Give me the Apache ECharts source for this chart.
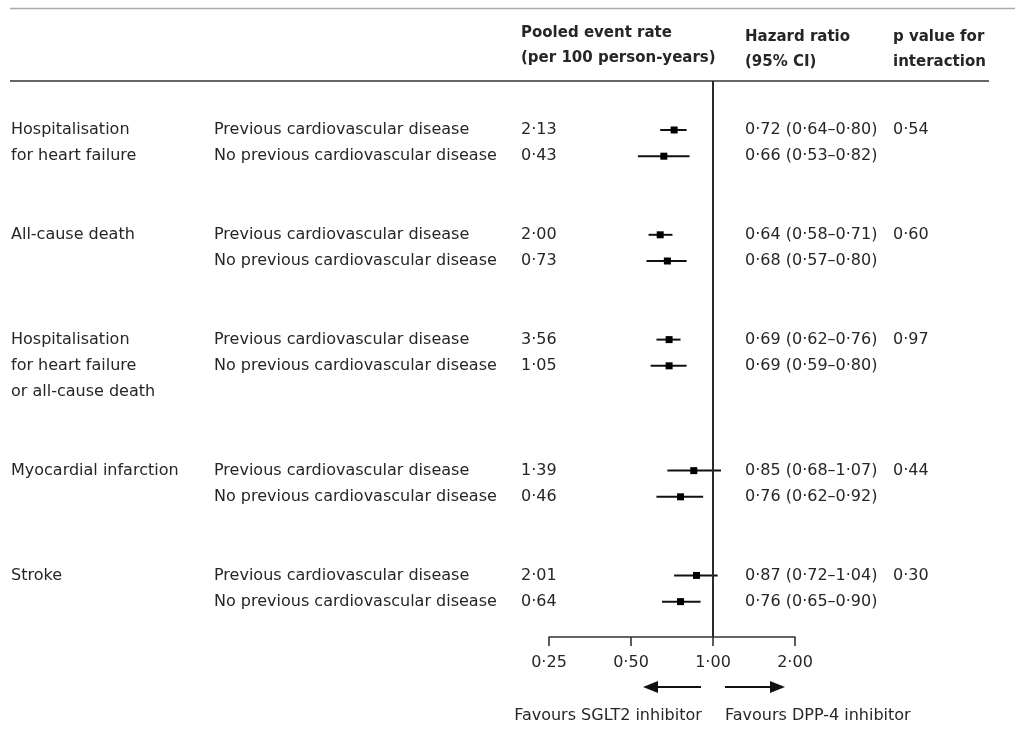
<!DOCTYPE html>
<html>
<head>
<meta charset="utf-8">
<script src="https://cdn.jsdelivr.net/npm/echarts@6/dist/echarts.min.js"></script>
<style>html,body{margin:0;padding:0;background:#fff}#c{width:1024px;height:735px}</style>
</head>
<body>
<div id="c"></div>
<script>
// ---- data ----
const outcomes = ['Hospitalisation\nfor heart failure', 'All-cause death', 'Hospitalisation\nfor heart failure\nor all-cause death', 'Myocardial infarction', 'Stroke'];
const subgroups = ['Previous cardiovascular disease', 'No previous cardiovascular disease'];
const eventRates = [[2.13, 0.43], [2.00, 0.73], [3.56, 1.05], [1.39, 0.46], [2.01, 0.64]];
const hazardRatios = [[0.72, 0.66], [0.64, 0.68], [0.69, 0.69], [0.85, 0.76], [0.87, 0.76]];
const ciLower = [[0.64, 0.53], [0.58, 0.57], [0.62, 0.59], [0.68, 0.62], [0.72, 0.65]];
const ciUpper = [[0.80, 0.82], [0.71, 0.80], [0.76, 0.80], [1.07, 0.92], [1.04, 0.90]];
const pInteraction = [0.54, 0.60, 0.97, 0.44, 0.30];
const xTicks = [0.25, 0.5, 1, 2];
const headers = {
  rate: ['Pooled event rate', '(per 100 person-years)'],
  hr: ['Hazard ratio', '(95% CI)'],
  p: ['p value for', 'interaction']
};
const favourLabels = ['Favours SGLT2 inhibitor', 'Favours DPP-4 inhibitor'];

// ---- helpers ----
const fmt = v => v.toFixed(2).replace('.', '\u00b7');
const FONT = '"DejaVu Sans", sans-serif';
const TXT = '#262626';
const FS = 16;
const HFONT = 'bold 15px ' + FONT;

// row slots derived from label line counts
const groupSlots = [];
let s = 0;
outcomes.forEach(o => { groupSlots.push(s); s += Math.max(2, o.split('\n').length) + 2; });

const forestData = [];
const tableData = [];
outcomes.forEach((o, g) => {
  [0, 1].forEach(r => {
    forestData.push([ciLower[g][r], ciUpper[g][r], hazardRatios[g][r], groupSlots[g] + r]);
  });
  tableData.push([1, groupSlots[g], g]);
});

const chart = echarts.init(document.getElementById('c'), null, {renderer: 'canvas'});

function txt(x, y, text, extra) {
  return {
    type: 'text', x: x, y: y,
    style: Object.assign({text: text, fill: TXT, font: FS + 'px ' + FONT, verticalAlign: 'middle', align: 'left'}, extra || {})
  };
}

chart.setOption({
  animation: false,
  backgroundColor: '#fff',
  grid: {left: 549, right: 229, top: 81, bottom: 98},
  xAxis: {
    type: 'log', logBase: 2, min: 0.25, max: 2,
    axisLine: {show: true, onZero: false, lineStyle: {color: '#333', width: 1.6}},
    axisTick: {show: true, length: 9, lineStyle: {color: '#333', width: 1.6}},
    axisLabel: {
      margin: 18, color: TXT, fontFamily: FONT, fontSize: FS,
      formatter: v => { const t = xTicks.find(k => Math.abs(k - v) < 1e-6); return t !== undefined ? fmt(t) : ''; }
    },
    splitLine: {show: false},
    minorTick: {show: false}
  },
  yAxis: {type: 'value', min: -1.87, max: 19.35, inverse: true, show: false},
  series: [
    {
      type: 'custom',
      name: 'forest',
      encode: {x: [0, 1, 2], y: 3},
      data: forestData,
      renderItem: (params, api) => {
        const lo = api.coord([api.value(0), api.value(3)]);
        const hi = api.coord([api.value(1), api.value(3)]);
        const c = api.coord([api.value(2), api.value(3)]);
        const h = 3.5;
        return {
          type: 'group',
          children: [
            {type: 'line', shape: {x1: lo[0], y1: lo[1], x2: hi[0], y2: hi[1]}, style: {stroke: '#111', lineWidth: 2}},
            {type: 'rect', shape: {x: c[0] - h, y: c[1] - h, width: 2 * h, height: 2 * h}, style: {fill: '#000'}}
          ]
        };
      },
      markLine: {
        silent: true, symbol: 'none', label: {show: false},
        lineStyle: {color: '#2a2a2a', width: 2, type: 'solid'},
        data: [{xAxis: 1}]
      },
      z: 3
    },
    {
      type: 'custom',
      name: 'table',
      encode: {x: 0, y: 1},
      data: tableData,
      clip: false,
      renderItem: (params, api) => {
        const g = api.value(2);
        const slot = api.value(1);
        const yAt = k => api.coord([1, slot + k])[1];
        const children = [];
        outcomes[g].split('\n').forEach((line, i) => children.push(txt(11, yAt(i), line)));
        [0, 1].forEach(r => {
          children.push(txt(214, yAt(r), subgroups[r]));
          children.push(txt(521, yAt(r), fmt(eventRates[g][r])));
          children.push(txt(745, yAt(r), fmt(hazardRatios[g][r]) + ' (' + fmt(ciLower[g][r]) + '\u2013' + fmt(ciUpper[g][r]) + ')'));
        });
        children.push(txt(893, yAt(0), fmt(pInteraction[g])));
        return {type: 'group', children: children};
      }
    }
  ],
  graphic: [
    {type: 'line', shape: {x1: 10, y1: 8.5, x2: 1015, y2: 8.5}, style: {stroke: '#aaa', lineWidth: 1.5}},
    {type: 'line', shape: {x1: 10, y1: 81, x2: 989, y2: 81}, style: {stroke: '#666', lineWidth: 2}},
    txt(521, 33, headers.rate[0], {font: HFONT}),
    txt(521, 58, headers.rate[1], {font: HFONT}),
    txt(745, 37, headers.hr[0], {font: HFONT}),
    txt(745, 62, headers.hr[1], {font: HFONT}),
    txt(893, 37, headers.p[0], {font: HFONT}),
    txt(893, 62, headers.p[1], {font: HFONT}),
    // arrows
    {type: 'line', shape: {x1: 656, y1: 687, x2: 701, y2: 687}, style: {stroke: '#111', lineWidth: 2}},
    {type: 'polygon', shape: {points: [[643, 687], [658, 681], [658, 693]]}, style: {fill: '#111'}},
    {type: 'line', shape: {x1: 725, y1: 687, x2: 772, y2: 687}, style: {stroke: '#111', lineWidth: 2}},
    {type: 'polygon', shape: {points: [[785, 687], [770, 681], [770, 693]]}, style: {fill: '#111'}},
    txt(608, 716, favourLabels[0], {align: 'center'}),
    txt(725, 716, favourLabels[1])
  ]
});
</script>
</body>
</html>
